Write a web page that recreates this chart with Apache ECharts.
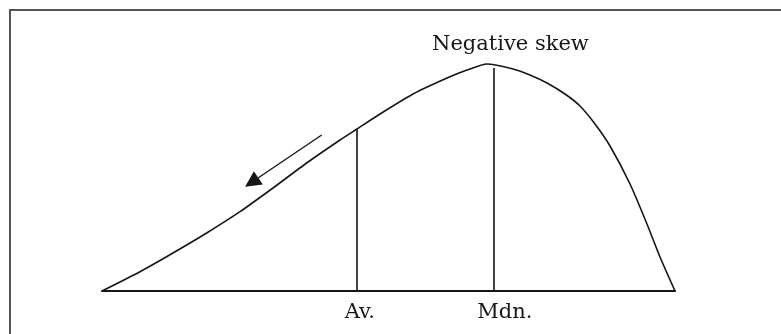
<!DOCTYPE html>
<html>
<head>
<meta charset="utf-8">
<script src="https://cdn.jsdelivr.net/npm/echarts@6/dist/echarts.min.js"></script>
<style>html,body{margin:0;padding:0;background:#fff}#c{width:781px;height:334px}</style>
</head>
<body>
<div id="c"></div>
<script>
// Curve of the negatively skewed distribution (x: 0-100 along baseline, y: 0-100 height)
const curveX = [0, 6.63, 12.39, 18.27, 24.08, 29.84, 35.72, 41.54, 44.5, 48.52, 54.28, 60.21, 63.7, 67.19, 71.73, 74.69, 77.66, 80.8, 83.42, 86.04, 88.66, 92.15, 95.11, 97.38, 100];
const curveY = [0, 8.5, 16.74, 25.55, 34.93, 45.37, 56.39, 66.52, 71.37, 77.97, 86.78, 93.83, 97.36, 100, 97.8, 95.15, 91.63, 86.78, 81.5, 73.57, 63.88, 47.14, 29.52, 14.98, 0];
// Vertical markers
const markerNames = ['Av.', 'Mdn.'];
const markerX = [44.5, 68.41];
const markerTop = [71.2, 98.2];
const markerLabelX = [45.0, 70.3];
// Arrow (tail -> tip)
const arrowTail = [38.34, 68.72];
const arrowTip = [26.13, 47.89];
const titleText = 'Negative skew';

const FONT = '"DejaVu Serif", serif';
const ink = '#161616';

const series = [
  {
    type: 'line',
    data: curveX.map((x, i) => [x, curveY[i]]),
    smooth: 0.2,
    showSymbol: false,
    lineStyle: { color: ink, width: 1.6, join: 'round' },
    clip: false,
    silent: true
  }
];
markerX.forEach((x, i) => {
  series.push({
    type: 'line',
    data: [[x, 0], [x, markerTop[i]]],
    showSymbol: false,
    lineStyle: { color: ink, width: 1.6 },
    silent: true
  });
});
series.push({
  type: 'scatter',
  data: markerNames.map((n, i) => ({ name: n, value: [markerLabelX[i], 0] })),
  symbolSize: 0,
  clip: false,
  silent: true,
  itemStyle: { opacity: 1, color: ink },
  label: {
    show: true,
    position: 'bottom',
    distance: 11,
    formatter: '{b}',
    color: ink,
    fontFamily: FONT,
    fontSize: 21
  }
});
series.push({
  type: 'lines',
  coordinateSystem: 'cartesian2d',
  silent: true,
  symbol: ['none', 'triangle'],
  symbolSize: [13, 16],
  lineStyle: { color: ink, width: 1.4, opacity: 1 },
  itemStyle: { color: ink },
  data: [{ coords: [arrowTail, arrowTip] }]
});

const chart = echarts.init(document.getElementById('c'), null, { renderer: 'canvas' });
chart.setOption({
  animation: false,
  backgroundColor: '#fff',
  title: {
    text: titleText,
    left: 427,
    top: 29,
    textStyle: { fontFamily: FONT, fontSize: 21, fontWeight: 'normal', color: ink }
  },
  grid: { left: 102, right: 106, top: 64, bottom: 43 },
  xAxis: {
    type: 'value', min: 0, max: 100,
    axisLine: { show: true, lineStyle: { color: ink, width: 2 } },
    axisTick: { show: false }, axisLabel: { show: false }, splitLine: { show: false }
  },
  yAxis: {
    type: 'value', min: 0, max: 100,
    axisLine: { show: false }, axisTick: { show: false }, axisLabel: { show: false }, splitLine: { show: false }
  },
  graphic: [{
    type: 'rect',
    shape: { x: 10, y: 10, width: 800, height: 400 },
    style: { fill: 'none', stroke: '#555', lineWidth: 2 },
    silent: true
  }],
  series: series
});
</script>
</body>
</html>
